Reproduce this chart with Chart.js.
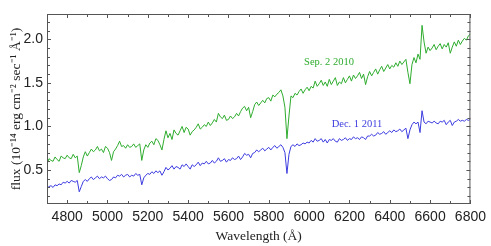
<!DOCTYPE html>
<html>
<head>
<meta charset="utf-8">
<script src="https://cdn.jsdelivr.net/npm/chart.js@4"></script>
<style>
  html, body { margin: 0; padding: 0; background: #fff; }
  #wrap { width: 491px; height: 246px; }
</style>
</head>
<body>
<div id="wrap"><canvas id="spec" width="491" height="246"></canvas></div>
<script>
// wavelength grid (Angstrom)
var wavelength = [
  4700, 4710, 4720, 4730, 4740, 4750, 4760, 4770, 4780, 4790,
  4800, 4810, 4820, 4830, 4840, 4850, 4860, 4870, 4880, 4890,
  4900, 4910, 4920, 4930, 4940, 4950, 4960, 4970, 4980, 4990,
  5000, 5010, 5020, 5030, 5040, 5050, 5060, 5070, 5080, 5090,
  5100, 5110, 5120, 5130, 5140, 5150, 5160, 5170, 5180, 5190,
  5200, 5210, 5220, 5230, 5240, 5250, 5260, 5270, 5280, 5290,
  5300, 5310, 5320, 5330, 5340, 5350, 5360, 5370, 5380, 5390,
  5400, 5410, 5420, 5430, 5440, 5450, 5460, 5470, 5480, 5490,
  5500, 5510, 5520, 5530, 5540, 5550, 5560, 5570, 5580, 5590,
  5600, 5610, 5620, 5630, 5640, 5650, 5660, 5670, 5680, 5690,
  5700, 5710, 5720, 5730, 5740, 5750, 5760, 5770, 5780, 5790,
  5800, 5810, 5820, 5830, 5840, 5850, 5860, 5870, 5880, 5890,
  5900, 5910, 5920, 5930, 5940, 5950, 5960, 5970, 5980, 5990,
  6000, 6010, 6020, 6030, 6040, 6050, 6060, 6070, 6080, 6090,
  6100, 6110, 6120, 6130, 6140, 6150, 6160, 6170, 6180, 6190,
  6200, 6210, 6220, 6230, 6240, 6250, 6260, 6270, 6280, 6290,
  6300, 6310, 6320, 6330, 6340, 6350, 6360, 6370, 6380, 6390,
  6400, 6410, 6420, 6430, 6440, 6450, 6460, 6470, 6480, 6490,
  6500, 6510, 6520, 6530, 6540, 6550, 6560, 6570, 6580, 6590,
  6600, 6610, 6620, 6630, 6640, 6650, 6660, 6670, 6680, 6690,
  6700, 6710, 6720, 6730, 6740, 6750, 6760, 6770, 6780, 6790,
  6800
];

// Sep. 2 2010 spectrum
var fluxSep2010 = [
  0.57, 0.63, 0.61, 0.60, 0.65, 0.62, 0.60, 0.66, 0.64, 0.63,
  0.67, 0.64, 0.63, 0.68, 0.64, 0.66, 0.47, 0.55, 0.65, 0.71,
  0.66, 0.70, 0.74, 0.71, 0.73, 0.77, 0.72, 0.74, 0.70, 0.77,
  0.75, 0.70, 0.61, 0.71, 0.74, 0.78, 0.83, 0.77, 0.78, 0.75,
  0.79, 0.76, 0.77, 0.80, 0.76, 0.78, 0.80, 0.61, 0.73, 0.79,
  0.76, 0.81, 0.83, 0.79, 0.86, 0.84, 0.79, 0.73, 0.85, 0.95,
  0.87, 0.92, 0.85, 0.96, 0.92, 0.90, 0.95, 1.00, 0.93, 0.99,
  0.97, 0.90, 0.94, 0.96, 0.99, 1.03, 0.97, 0.99, 1.02, 1.00,
  1.05, 1.01, 1.04, 1.08, 1.05, 1.15, 1.11, 1.09, 1.13, 1.07,
  1.08, 1.12, 1.09, 1.11, 1.15, 1.12, 1.17, 1.21, 1.23, 1.18,
  1.22, 1.10, 1.17, 1.25, 1.28, 1.24, 1.27, 1.30, 1.27, 1.32,
  1.33, 1.29, 1.36, 1.34, 1.37, 1.39, 1.42, 1.35, 1.22, 0.86,
  1.12, 1.35, 1.33, 1.38, 1.36, 1.40, 1.43, 1.38, 1.42, 1.45,
  1.41, 1.46, 1.44, 1.52, 1.46, 1.49, 1.53, 1.47, 1.51, 1.46,
  1.54, 1.48, 1.52, 1.56, 1.47, 1.51, 1.49, 1.56, 1.50, 1.54,
  1.58, 1.52, 1.59, 1.55, 1.58, 1.62, 1.55, 1.60, 1.48, 1.57,
  1.63, 1.58, 1.62, 1.66, 1.60, 1.65, 1.69, 1.63, 1.67, 1.71,
  1.66, 1.70, 1.68, 1.73, 1.69, 1.75, 1.71, 1.74, 1.77, 1.62,
  1.49, 1.71, 1.79, 1.73, 1.83, 1.77, 2.16, 1.97, 1.84, 1.91,
  1.87, 1.90, 1.94, 1.88, 1.92, 1.95, 1.89, 1.94, 1.91, 1.96,
  1.84, 1.91, 1.97, 1.92, 1.99, 1.94, 1.98, 2.01, 1.99, 2.04,
  2.06
];

// Dec. 1 2011 spectrum
var fluxDec2011 = [
  0.29, 0.31, 0.32, 0.30, 0.33, 0.32, 0.34, 0.33, 0.36, 0.35,
  0.37, 0.35, 0.38, 0.37, 0.36, 0.38, 0.25, 0.31, 0.37, 0.39,
  0.37, 0.40, 0.42, 0.39, 0.41, 0.43, 0.40, 0.42, 0.41, 0.43,
  0.40, 0.38, 0.39, 0.42, 0.41, 0.44, 0.43, 0.45, 0.42, 0.44,
  0.45, 0.42, 0.44, 0.43, 0.46, 0.44, 0.45, 0.33, 0.41, 0.44,
  0.46, 0.45, 0.48, 0.46, 0.49, 0.47, 0.49, 0.44, 0.48, 0.53,
  0.50, 0.52, 0.55, 0.51, 0.54, 0.53, 0.51, 0.56, 0.54, 0.57,
  0.54, 0.51, 0.56, 0.54, 0.56, 0.59, 0.55, 0.58, 0.57, 0.60,
  0.57, 0.58, 0.61, 0.58, 0.60, 0.64, 0.60, 0.61, 0.63, 0.59,
  0.62, 0.61, 0.64, 0.62, 0.63, 0.66, 0.62, 0.65, 0.69, 0.67,
  0.68, 0.64, 0.69, 0.70, 0.73, 0.71, 0.73, 0.75, 0.72, 0.74,
  0.76, 0.73, 0.76, 0.78, 0.75, 0.77, 0.79, 0.76, 0.70, 0.46,
  0.68, 0.77, 0.79, 0.77, 0.80, 0.78, 0.79, 0.81, 0.80, 0.82,
  0.81, 0.84, 0.82, 0.86, 0.83, 0.84, 0.86, 0.82, 0.85, 0.81,
  0.85, 0.84, 0.86, 0.83, 0.82, 0.86, 0.84, 0.85, 0.87, 0.84,
  0.86, 0.85, 0.88, 0.86, 0.87, 0.85, 0.88, 0.87, 0.85, 0.89,
  0.89, 0.91, 0.89, 0.90, 0.93, 0.91, 0.92, 0.94, 0.91, 0.93,
  0.95, 0.93, 0.96, 0.94, 0.95, 0.97, 0.94, 0.96, 0.98, 0.86,
  0.96, 1.02, 1.05, 1.03, 1.05, 0.93, 1.18, 1.05, 1.03, 1.06,
  1.05, 1.04, 1.06, 1.04, 1.03, 1.06, 1.05, 1.07, 1.02, 1.05,
  1.07, 1.01, 1.05, 1.06, 1.08, 1.06, 1.07, 1.06, 1.08, 1.07,
  1.08
];

var xTickLabels = [4800, 5000, 5200, 5400, 5600, 5800, 6000, 6200, 6400, 6600, 6800];
var yTickLabels = [0.5, 1.0, 1.5, 2.0];

var greenCol = '#2eac2e';
var blueCol = '#3c3ce0';

function pairs(ys) {
  return wavelength.map(function (w, i) { return { x: w, y: ys[i] }; });
}

// inner ticks, frame, titles and labels
var decor = {
  id: 'decor',
  afterDraw: function (chart) {
    var ctx = chart.ctx, a = chart.chartArea;
    var xs = chart.scales.x, ys = chart.scales.y;
    ctx.save();
    ctx.strokeStyle = '#555';
    ctx.lineWidth = 1;
    ctx.strokeRect(a.left + 0.5, a.top + 0.5, a.right - a.left - 1, a.bottom - a.top - 1);
    ctx.beginPath();
    for (var w = 4700; w <= 6800; w += 100) {
      var px = Math.round(xs.getPixelForValue(w)) + 0.5;
      var len = (w % 200 === 0) ? 4 : 3;
      ctx.moveTo(px, a.bottom); ctx.lineTo(px, a.bottom - len);
      ctx.moveTo(px, a.top); ctx.lineTo(px, a.top + len);
    }
    for (var k = 2; k <= 22; k++) {
      var py = Math.round(ys.getPixelForValue(k / 10)) + 0.5;
      var l2 = (k % 5 === 0) ? 4 : 3;
      ctx.moveTo(a.left, py); ctx.lineTo(a.left + l2, py);
      ctx.moveTo(a.right, py); ctx.lineTo(a.right - l2, py);
    }
    ctx.stroke();

    ctx.fillStyle = '#222';
    ctx.font = '13.5px "Liberation Serif", "Times New Roman", serif';
    ctx.textAlign = 'center';
    ctx.textBaseline = 'middle';
    ctx.fillText('Wavelength (\u00c5)', (a.left + a.right) / 2, 236);

    ctx.save();
    ctx.translate(16, (a.top + a.bottom) / 2);
    ctx.rotate(-Math.PI / 2);
    ctx.fillText('flux (10\u207b\u00b9\u2074 erg cm\u207b\u00b2 sec\u207b\u00b9 \u00c5\u207b\u00b9)', 0, 0);
    ctx.restore();

    ctx.font = '10.5px "Liberation Serif", "Times New Roman", serif';
    ctx.fillStyle = greenCol;
    ctx.fillText('Sep. 2 2010', 329, 62);
    ctx.fillStyle = blueCol;
    ctx.fillText('Dec. 1 2011', 357, 124);
    ctx.restore();
  }
};

new Chart('spec', {
  type: 'line',
  data: {
    datasets: [
      { label: 'Sep. 2 2010', data: pairs(fluxSep2010), borderColor: greenCol, borderWidth: 1, pointRadius: 0, tension: 0 },
      { label: 'Dec. 1 2011', data: pairs(fluxDec2011), borderColor: blueCol, borderWidth: 1, pointRadius: 0, tension: 0 }
    ]
  },
  options: {
    responsive: false,
    animation: false,
    layout: { padding: { left: 0, right: 19, top: 14, bottom: 0 } },
    plugins: { legend: { display: false }, tooltip: { enabled: false } },
    scales: {
      x: {
        type: 'linear',
        min: 4700,
        max: 6800,
        afterBuildTicks: function (s) { s.ticks = xTickLabels.map(function (v) { return { value: v }; }); },
        afterFit: function (s) { s.height = 42; },
        grid: { display: false, drawTicks: false },
        border: { display: false },
        ticks: {
          padding: 5,
          color: '#222',
          maxRotation: 0,
          autoSkip: false,
          font: { family: '"Liberation Sans", Arial, sans-serif', size: 14 },
          callback: function (v) { return String(v); }
        }
      },
      y: {
        min: 0.11,
        max: 2.29,
        afterBuildTicks: function (s) { s.ticks = yTickLabels.map(function (v) { return { value: v }; }); },
        afterFit: function (s) { s.width = 47; },
        grid: { display: false, drawTicks: false },
        border: { display: false },
        ticks: {
          padding: 4,
          color: '#222',
          font: { family: '"Liberation Sans", Arial, sans-serif', size: 14 },
          callback: function (v) { return Number(v).toFixed(1); }
        }
      }
    }
  },
  plugins: [decor]
});
</script>
</body>
</html>
